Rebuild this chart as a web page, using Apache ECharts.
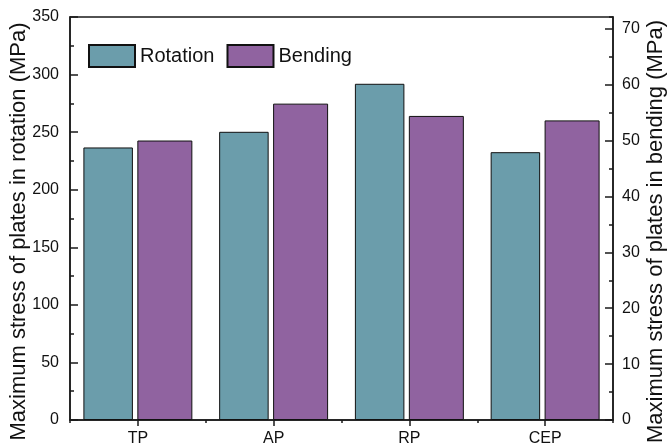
<!DOCTYPE html>
<html>
<head>
<meta charset="utf-8">
<script src="https://cdn.jsdelivr.net/npm/echarts@6/dist/echarts.min.js"></script>
<style>html,body{margin:0;padding:0;background:#fff}#c{width:668px;height:445px}</style>
</head>
<body>
<div id="c"></div>
<script>
const categories = ['TP', 'AP', 'RP', 'CEP'];
const rotationValues = [236.7, 250.3, 292, 232.6];
const bendingValues = [50.0, 56.6, 54.4, 53.6];
const leftAxisName = 'Maximum stress of plates in rotation (MPa)';
const rightAxisName = 'Maximum stress of plates in bending (MPa)';
const seriesNames = ['Rotation', 'Bending'];

const FONT = '"Liberation Sans", Arial, sans-serif';
const LINE = { color: '#1a1a1a', width: 1.5 };

const chart = echarts.init(document.getElementById('c'), null, { renderer: 'canvas' });
chart.setOption({
  animation: false,
  backgroundColor: '#ffffff',
  textStyle: { fontFamily: FONT },
  grid: { left: 70, right: 55, top: 17, bottom: 25, show: true, borderColor: '#1a1a1a', borderWidth: 1.5, containLabel: false, outerBoundsMode: 'none' },
  legend: {
    left: 88, top: 44, padding: 0,
    itemWidth: 46, itemHeight: 22, itemGap: 12,
    icon: 'rect',
    textStyle: { fontFamily: FONT, fontSize: 20, color: '#111' },
    data: seriesNames
  },
  xAxis: [
    {
      type: 'category', data: categories, position: 'bottom',
      axisLine: { show: true, lineStyle: LINE },
      axisTick: { show: true, alignWithLabel: true, inside: false, length: 6, lineStyle: LINE },
      axisLabel: { fontFamily: FONT, fontSize: 16, color: '#111', margin: 11 },
      splitLine: { show: false }
    },
    {
      type: 'category', data: categories, position: 'bottom',
      axisLine: { show: false },
      axisTick: { show: true, inside: false, length: 3, lineStyle: LINE },
      axisLabel: { show: false },
      splitLine: { show: false }
    }
  ],
  yAxis: [
    {
      type: 'value', position: 'left', min: 0, max: 350, interval: 50,
      name: leftAxisName, nameLocation: 'middle', nameGap: 40, nameMoveOverlap: false,
      nameTextStyle: { fontFamily: FONT, fontSize: 22, color: '#111', padding: [0, 26, 0, 0] },
      axisLine: { show: true, lineStyle: LINE },
      axisTick: { show: true, inside: true, length: 8, lineStyle: LINE },
      minorTick: { show: true, splitNumber: 2, length: 4, lineStyle: LINE },
      axisLabel: { fontFamily: FONT, fontSize: 16, color: '#111', margin: 11 },
      splitLine: { show: false }
    },
    {
      type: 'value', position: 'right', min: 0, max: 72.1, interval: 10,
      name: rightAxisName, nameLocation: 'middle', nameGap: 32, nameMoveOverlap: false,
      nameTextStyle: { fontFamily: FONT, fontSize: 22, color: '#111', padding: [0, 26, 0, 0] },
      axisLine: { show: true, lineStyle: LINE },
      axisTick: { show: true, inside: true, length: 8, lineStyle: LINE },
      axisLabel: { fontFamily: FONT, fontSize: 16, color: '#111', margin: 9, showMaxLabel: false },
      splitLine: { show: false }
    },
    {
      type: 'value', position: 'right', min: 0, max: 72.1, interval: 5,
      axisLine: { show: false },
      axisTick: { show: true, inside: true, length: 4, lineStyle: LINE },
      axisLabel: { show: false },
      splitLine: { show: false }
    }
  ],
  series: [
    {
      name: seriesNames[0], type: 'bar', xAxisIndex: 0, yAxisIndex: 0,
      data: rotationValues, barWidth: 49.5, barGap: '9%',
      itemStyle: { color: '#6b9dab', borderColor: '#111', borderWidth: 1 }
    },
    {
      name: seriesNames[1], type: 'bar', xAxisIndex: 0, yAxisIndex: 1,
      data: bendingValues, barWidth: 55,
      itemStyle: { color: '#9063a0', borderColor: '#111', borderWidth: 1 }
    }
  ]
});
</script>
</body>
</html>
